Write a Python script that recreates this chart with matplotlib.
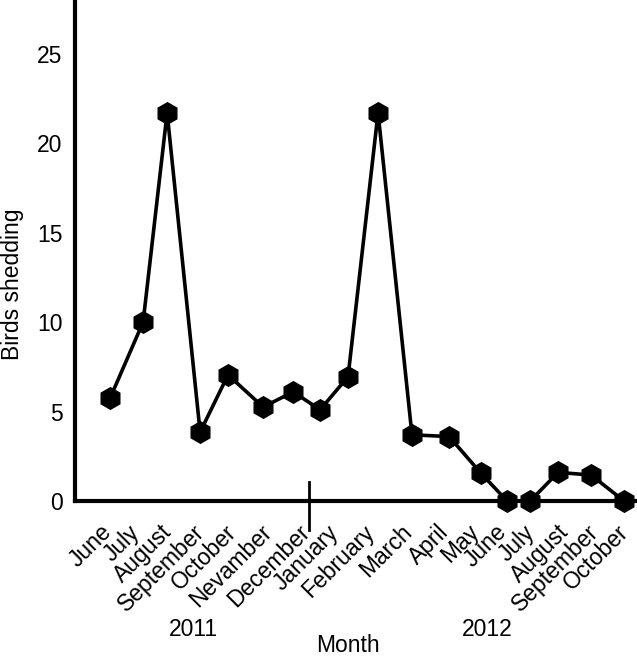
import matplotlib
matplotlib.use('Agg')
import matplotlib.pyplot as plt

plt.rcParams['font.family'] = ['Liberation Sans', 'DejaVu Sans']

# ---- data ----
x_pos = [1.17, 2.27, 3.07, 4.17, 5.1, 6.27, 7.27, 8.17, 9.1, 10.1,
         11.23, 12.47, 13.53, 14.4, 15.17, 16.1, 17.2, 18.3]
birds = [5.75, 10.0, 21.7, 3.85, 7.05, 5.25, 6.1, 5.1, 6.95, 21.7,
         3.7, 3.6, 1.55, 0, 0, 1.6, 1.45, 0]
month_labels = ['June', 'July', 'August', 'September', 'October', 'Nevamber',
                'December', 'January', 'February', 'March', 'April', 'May',
                'June', 'July', 'August', 'September', 'October']
label_pos = [1.1, 2.03, 3.1, 4.2, 5.26, 6.43, 7.7, 8.66, 9.86, 11.1,
             12.33, 13.36, 14.26, 15.2, 16.33, 17.33, 18.33]
year_split = 7.8
y_ticks = [0, 5, 10, 15, 20, 25]

fig = plt.figure(figsize=(6.37, 6.58), dpi=100)
ax = fig.add_axes([75 / 637, (658 - 501) / 658, 1 - 75 / 637, 501 / 658])

ax.plot(x_pos, birds, color='black', lw=2.6, marker='h', markersize=15.5,
        clip_on=False, zorder=3)

ax.set_xlim(0, 18.73)
ax.set_ylim(0, 28)

for s in ['top', 'right']:
    ax.spines[s].set_visible(False)
ax.spines['left'].set_linewidth(3)
ax.spines['bottom'].set_linewidth(3)

ax.set_yticks(y_ticks)
ax.set_yticklabels([str(t) for t in y_ticks], fontsize=16.5)
ax.set_xticks(label_pos)
ax.set_xticklabels(month_labels, fontsize=16.5, rotation=45, ha='right',
                   va='center', rotation_mode='anchor')
ax.tick_params(axis='y', length=0, pad=9)
ax.tick_params(axis='x', length=0, pad=20)

# year divider tick
ax.plot([year_split, year_split], [1.06, -1.62], color='black', lw=2,
        clip_on=False)

fig.text(193 / 637, 1 - 630 / 658, '2011', fontsize=16.5, ha='center', va='center')
fig.text(487 / 637, 1 - 630 / 658, '2012', fontsize=16.5, ha='center', va='center')
fig.text(348 / 637, 1 - 657 / 658, 'Month', fontsize=16.5, ha='center', va='bottom')
fig.text(1 / 637, 1 - 284 / 658, 'Birds shedding', fontsize=16.5, ha='left',
         va='center', rotation=90)

plt.savefig('out.png', dpi=100)
